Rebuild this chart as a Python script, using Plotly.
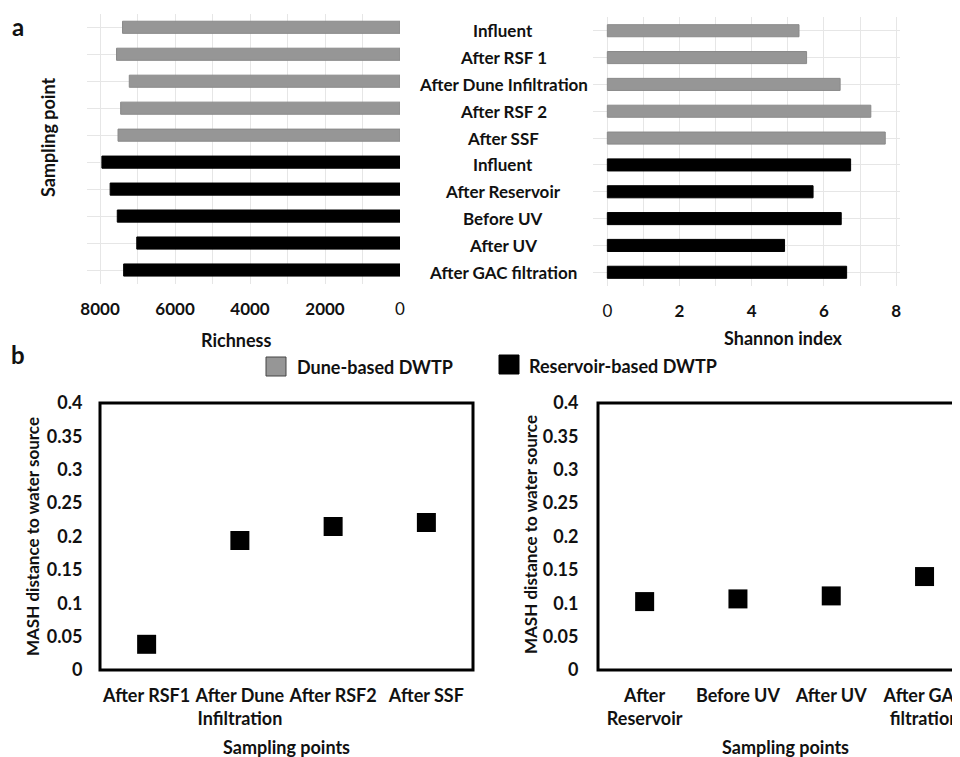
import plotly.graph_objects as go

# ---------------- data ----------------
sampling_points = ["Influent", "After RSF 1", "After Dune Infiltration", "After RSF 2", "After SSF",
                   "Influent", "After Reservoir", "Before UV", "After UV", "After GAC filtration"]
plant = ["Dune", "Dune", "Dune", "Dune", "Dune",
         "Reservoir", "Reservoir", "Reservoir", "Reservoir", "Reservoir"]
richness = [7400, 7560, 7220, 7450, 7520, 7950, 7730, 7540, 7020, 7370]
shannon = [5.31, 5.52, 6.45, 7.30, 7.70, 6.74, 5.70, 6.48, 4.91, 6.63]

richness_ticks = [0, 1000, 2000, 3000, 4000, 5000, 6000, 7000, 8000]
richness_ticktext = ["0", "", "<b>2000</b>", "", "<b>4000</b>", "", "<b>6000</b>", "", "<b>8000</b>"]
shannon_ticks = [0, 1, 2, 3, 4, 5, 6, 7, 8]
shannon_ticktext = ["0", "", "<b>2</b>", "", "<b>4</b>", "", "<b>6</b>", "", "<b>8</b>"]

dune_points = ["After RSF1", "After Dune<br>Infiltration", "After RSF2", "After SSF"]
dune_mash = [0.0385, 0.194, 0.215, 0.221]
res_points = ["After<br>Reservoir", "Before UV", "After UV", "After GAC<br>filtration"]
res_mash = [0.1025, 0.1065, 0.111, 0.140]
mash_ticks = [0, 0.05, 0.1, 0.15, 0.2, 0.25, 0.3, 0.35, 0.4]

legend_labels = {"Dune": "Dune-based DWTP", "Reservoir": "Reservoir-based DWTP"}
colors = {"Dune": "#969696", "Reservoir": "#000000"}
outline = {"Dune": "#8a8a8a", "Reservoir": "#000000"}

# ---------------- geometry helpers ----------------
# page body has an 8px default margin, so the figure starts at (8, 8) in the window
OFF = 8
W, H = 952, 749
def fx(p):
    return (p - OFF) / W
def fy(p):
    return 1 - (p - OFF) / H

FONT = "Lato"
TXT = "#111111"

fig = go.Figure()

idx = list(range(len(sampling_points)))
for g in ["Dune", "Reservoir"]:
    yy = [i for i in idx if plant[i] == g]
    fig.add_trace(go.Bar(
        x=[richness[i] for i in yy], y=yy, orientation="h", width=0.45,
        marker=dict(color=colors[g], line=dict(color=outline[g], width=1)),
        name=legend_labels[g], showlegend=False, xaxis="x", yaxis="y"))
    fig.add_trace(go.Bar(
        x=[shannon[i] for i in yy], y=yy, orientation="h", width=0.45,
        marker=dict(color=colors[g], line=dict(color=outline[g], width=1)),
        name=legend_labels[g], showlegend=False, xaxis="x2", yaxis="y2"))

fig.add_trace(go.Scatter(x=dune_points, y=dune_mash, mode="markers",
                         marker=dict(symbol="square", size=19, color="#000"),
                         showlegend=False, xaxis="x3", yaxis="y3"))
fig.add_trace(go.Scatter(x=res_points, y=res_mash, mode="markers",
                         marker=dict(symbol="square", size=19, color="#000"),
                         showlegend=False, xaxis="x4", yaxis="y4"))

grid = "#e6e6e6"
boldtick = dict(family=FONT, size=18, color=TXT, weight="bold")

n = len(sampling_points)
fig.update_layout(
    width=W, height=H, margin=dict(l=0, r=0, t=0, b=0, autoexpand=False),
    paper_bgcolor="white", plot_bgcolor="white",
    font=dict(family=FONT, color=TXT),
    xaxis=dict(domain=[fx(86.9), fx(400)], range=[8350, 0], tickvals=richness_ticks,
               ticktext=richness_ticktext, tickfont=dict(family=FONT, size=17, color=TXT),
               showgrid=True, gridcolor=grid, zeroline=False, showline=False, automargin=False,
               ticks="outside", ticklen=10, tickcolor="rgba(0,0,0,0)", anchor="y"),
    yaxis=dict(domain=[fy(283.5), fy(13.8)], range=[n - 0.5, -0.5], dtick=1, tick0=0,
               showticklabels=False, showgrid=True, gridcolor=grid, zeroline=False,
               showline=False, automargin=False, anchor="x"),
    xaxis2=dict(domain=[fx(592.9), fx(899.7)], range=[-0.4, 8.1], tickvals=shannon_ticks,
                ticktext=shannon_ticktext, tickfont=dict(family=FONT, size=17, color=TXT),
                showgrid=True, gridcolor=grid, zeroline=False, showline=False, automargin=False,
                ticks="outside", ticklen=10, tickcolor="rgba(0,0,0,0)", anchor="y2"),
    yaxis2=dict(domain=[fy(285.7), fy(17.3)], range=[n - 0.5, -0.5], dtick=1, tick0=0,
                showticklabels=False, showgrid=True, gridcolor=grid, zeroline=False,
                showline=False, automargin=False, anchor="x2"),
    xaxis3=dict(domain=[fx(100), fx(473)], range=[-0.5, 3.5], type="category",
                tickfont=boldtick, showgrid=False, zeroline=False, showline=False, automargin=False,
                ticks="outside", ticklen=9, tickcolor="rgba(0,0,0,0)", anchor="y3"),
    yaxis3=dict(domain=[fy(670), fy(403)], range=[0, 0.4], tickvals=mash_ticks,
                ticktext=[f"{v:g}" for v in mash_ticks], tickfont=boldtick,
                showgrid=False, zeroline=False, showline=False, automargin=False,
                ticks="outside", ticklen=13, tickcolor="rgba(0,0,0,0)", anchor="x3"),
    xaxis4=dict(domain=[fx(598), 1.0], range=[-0.5, 3.38], type="category",
                tickfont=boldtick, showgrid=False, zeroline=False, showline=False, automargin=False,
                ticks="outside", ticklen=9, tickcolor="rgba(0,0,0,0)", anchor="y4",
                ticklabeloverflow="allow"),
    yaxis4=dict(domain=[fy(670), fy(403)], range=[0, 0.4], tickvals=mash_ticks,
                ticktext=[f"{v:g}" for v in mash_ticks], tickfont=boldtick,
                showgrid=False, zeroline=False, showline=False, automargin=False,
                ticks="outside", ticklen=15, tickcolor="rgba(0,0,0,0)", anchor="x4"),
)

shapes = []
# boxes around the scatter panels
shapes.append(dict(type="rect", xref="paper", yref="paper", x0=fx(100), x1=fx(473),
                   y0=fy(670), y1=fy(403), line=dict(color="#000", width=3)))
shapes.append(dict(type="rect", xref="paper", yref="paper", x0=fx(598), x1=fx(975),
                   y0=fy(670), y1=fy(403), line=dict(color="#000", width=3)))
# legend squares
shapes.append(dict(type="rect", xref="paper", yref="paper", x0=fx(266), x1=fx(286),
                   y0=fy(376), y1=fy(357), fillcolor=colors["Dune"], line=dict(color="#444", width=1)))
shapes.append(dict(type="rect", xref="paper", yref="paper", x0=fx(499), x1=fx(519),
                   y0=fy(374), y1=fy(355), fillcolor="#000", line=dict(color="#000", width=1)))
fig.update_layout(shapes=shapes)

ann = []
def txt(text, x, y, size=16, bold=True, xanchor="center", angle=0):
    ann.append(dict(text=f"<b>{text}</b>" if bold else text, x=fx(x), y=fy(y),
                    xref="paper", yref="paper", xanchor=xanchor, yanchor="middle",
                    showarrow=False, textangle=angle,
                    font=dict(family=FONT, size=size, color=TXT)))

# category labels between the bar panels
for i, lab in enumerate(sampling_points):
    ann.append(dict(text=f"<b>{lab}</b>", x=fx(503), y=i, xref="paper", yref="y2",
                    xanchor="center", yanchor="middle", showarrow=False,
                    font=dict(family=FONT, size=17, color=TXT)))

txt("a", 18, 27, size=24)
txt("b", 18, 354, size=24)
txt("Sampling point", 48, 138, size=18, angle=-90)
txt("Richness", 236, 340, size=18)
txt("Shannon index", 783, 338, size=18)
txt(legend_labels["Dune"], 295, 367, size=18, xanchor="left")
txt(legend_labels["Reservoir"], 527, 366, size=18, xanchor="left")
txt("MASH distance to water source", 32, 537, size=17, angle=-90)
txt("MASH distance to water source", 530, 535, size=17, angle=-90)
txt("Sampling points", 286.5, 747, size=18)
txt("Sampling points", 785, 747, size=18)
fig.update_layout(annotations=ann)

fig.write_html("out.html")
